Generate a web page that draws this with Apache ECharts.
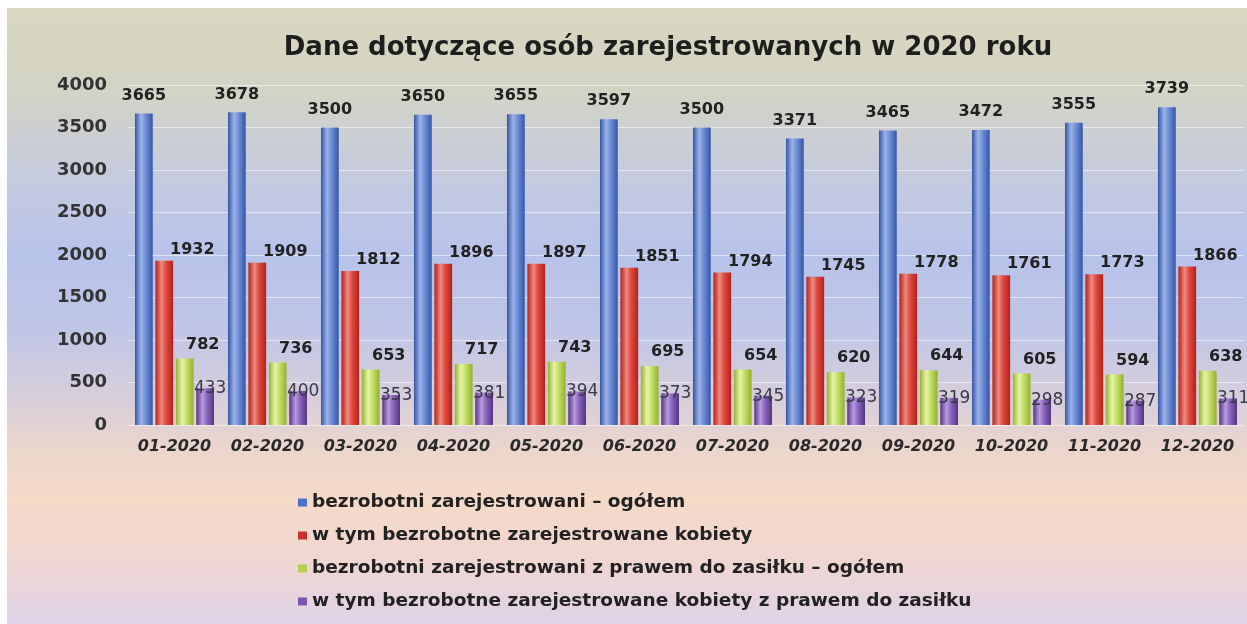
<!DOCTYPE html>
<html>
<head>
<meta charset="utf-8">
<script src="https://cdn.jsdelivr.net/npm/echarts@6/dist/echarts.min.js"></script>
<style>
  html, body { margin: 0; padding: 0; background: #ffffff; }
  #chart {
    position: absolute; left: 7px; top: 8px; width: 1240px; height: 616px;
    background: linear-gradient(to bottom,
      #d9d7bf 0%, #d3d3c6 14%, #c4cadf 28%, #b8c3ea 40%, #bfc6e6 52%,
      #d6cedb 63%, #ecd6cc 72%, #f5dac8 80%, #efd6d2 90%, #dfd2e8 100%);
  }
</style>
</head>
<body>
<div id="chart"></div>
<script>
// Months of 2020
const categories = ['01-2020', '02-2020', '03-2020', '04-2020', '05-2020', '06-2020',
                    '07-2020', '08-2020', '09-2020', '10-2020', '11-2020', '12-2020'];

// Registered unemployed – total
const ogolem = [3665, 3678, 3500, 3650, 3655, 3597, 3500, 3371, 3465, 3472, 3555, 3739];
// of which registered unemployed women
const kobiety = [1932, 1909, 1812, 1896, 1897, 1851, 1794, 1745, 1778, 1761, 1773, 1866];
// Registered unemployed with benefit entitlement – total
const zasilek = [782, 736, 653, 717, 743, 695, 654, 620, 644, 605, 594, 638];
// of which women with benefit entitlement
const kobietyZasilek = [433, 400, 353, 381, 394, 373, 345, 323, 319, 298, 287, 311];

const seriesNames = [
  'bezrobotni zarejestrowani – ogółem',
  'w tym bezrobotne zarejestrowane kobiety',
  'bezrobotni zarejestrowani z prawem do zasiłku – ogółem',
  'w tym bezrobotne zarejestrowane kobiety z prawem do zasiłku'
];

const yTicks = { min: 0, max: 4000, interval: 500 };

const FONT = 'DejaVu Sans';

// Horizontal gradient giving each bar a cylindrical look
function cylinder(edge, mid, light) {
  return new echarts.graphic.LinearGradient(0, 0, 1, 0, [
    { offset: 0, color: edge },
    { offset: 0.35, color: light },
    { offset: 0.6, color: mid },
    { offset: 1, color: edge }
  ]);
}

const palette = [
  cylinder('#3556a6', '#6f8ed6', '#9cb3ea'),
  cylinder('#b3211b', '#dc4a40', '#f08a80'),
  cylinder('#93b22e', '#c5df6a', '#e6f4a8'),
  cylinder('#553580', '#8b66be', '#b89ae0')
];
const legendColors = ['#4d72c8', '#c8302a', '#b5d050', '#7a55aa'];

function boldLabel(dist, dx) {
  return {
    show: true, position: 'top', distance: dist, offset: [dx, 0],
    fontFamily: FONT, fontWeight: 'bold', fontSize: 16, color: '#222222'
  };
}

const dataSets = [ogolem, kobiety, zasilek, kobietyZasilek];
const labels = [
  boldLabel(10, 0),
  boldLabel(3, 28),
  boldLabel(6, 18),
  { show: true, position: 'top', distance: 0, offset: [5, 9],
    fontFamily: FONT, fontWeight: 'normal', fontSize: 17, color: '#3a3a48' }
];

const chart = echarts.init(document.getElementById('chart'), null, { renderer: 'canvas' });

chart.setOption({
  backgroundColor: 'transparent',
  animation: false,
  title: {
    text: 'Dane dotyczące osób zarejestrowanych w 2020 roku',
    left: 656, top: 22, textAlign: 'center',
    textStyle: { fontFamily: FONT, fontWeight: 'bold', fontSize: 26, color: '#1e1e1e' }
  },
  legend: {
    orient: 'vertical', left: 286, top: 480, itemGap: 14,
    itemWidth: 9, itemHeight: 8, icon: 'rect',
    textStyle: { fontFamily: FONT, fontWeight: 'bold', fontSize: 18.5, color: '#222222' },
    data: seriesNames.map((n, i) => ({ name: n, itemStyle: { color: legendColors[i] } }))
  },
  grid: { left: 121, right: 3, top: 77, bottom: 199, containLabel: false },
  xAxis: {
    type: 'category', data: categories,
    axisLine: { show: false }, axisTick: { show: false },
    axisLabel: { interval: 0, margin: 14, fontFamily: FONT, fontStyle: 'italic', fontWeight: 'bold',
                 fontSize: 16, color: '#2a2a2a' }
  },
  yAxis: {
    type: 'value', min: yTicks.min, max: yTicks.max, interval: yTicks.interval,
    axisLine: { show: false }, axisTick: { show: false },
    axisLabel: { margin: 21, fontFamily: FONT, fontWeight: 'bold', fontSize: 18, color: '#333333',
                 formatter: v => String(v) },
    splitLine: { lineStyle: { color: 'rgba(255,255,255,0.55)', width: 1 } }
  },
  series: dataSets.map((d, i) => ({
    name: seriesNames[i], type: 'bar', data: d,
    barGap: '15%', barCategoryGap: '15%',
    itemStyle: { color: palette[i] },
    label: labels[i]
  }))
});
</script>
</body>
</html>
